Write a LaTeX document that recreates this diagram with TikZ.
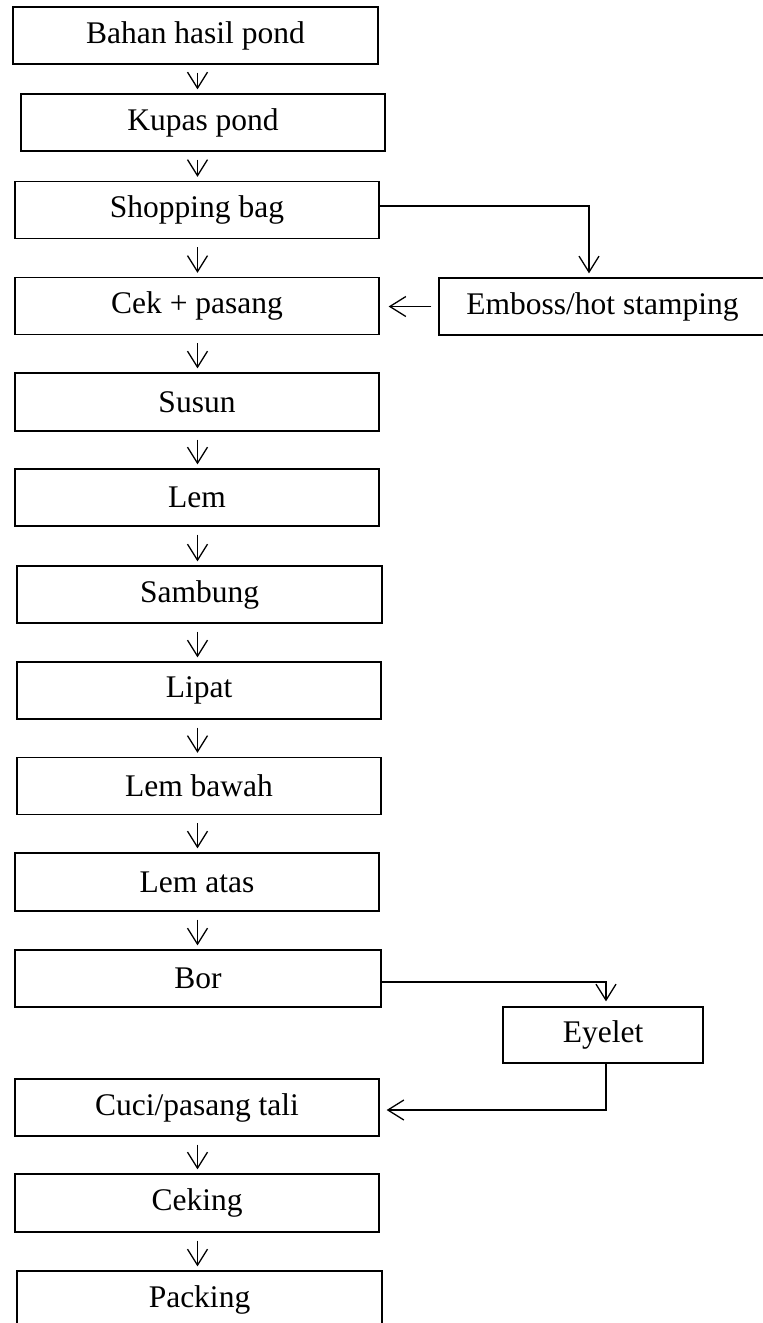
\documentclass[tikz,border=0pt]{standalone}
\usepackage{fontspec}
\setmainfont{Liberation Serif}
\usetikzlibrary{arrows.meta}
\begin{document}
\begin{tikzpicture}[x=1pt,y=-1pt,
  box/.style={draw,line width=1.3pt,inner sep=0pt,minimum height=57pt,
    font=\fontsize{31.5}{36}\selectfont},
  arr/.style={line width=1.3pt,-{Straight Barb[length=16pt,width=20pt,line width=1.3pt]}},
  conn/.style={line width=1.3pt}]
\useasboundingbox (0,0) rectangle (763,1323);
\clip (0,0) rectangle (763,1323);
\coordinate (X) at (197.5,0);
\node[box,minimum width=365pt] (b1) at (195.5,35.5) {Bahan hasil pond};
\node[box,minimum width=364pt] (b2) at (203,122.5) {Kupas pond};
\node[box,minimum width=364pt] (b3) at (197,210) {Shopping bag};
\node[box,minimum width=364pt] (b4) at (197,306) {Cek + pasang};
\node[box,minimum width=364pt,minimum height=58pt] (b5) at (197,402) {Susun};
\node[box,minimum width=364pt] (b6) at (197,497.5) {Lem};
\node[box,minimum width=365pt] (b7) at (199.5,594.5) {Sambung};
\node[box,minimum width=364pt] (b8) at (199,690.5) {Lipat};
\node[box,minimum width=364pt] (b9) at (199,786) {Lem bawah};
\node[box,minimum width=364pt,minimum height=58pt] (b10) at (197,882) {Lem atas};
\node[box,minimum width=366pt] (b11) at (198,978.5) {Bor};
\node[box,minimum width=364pt] (b12) at (197,1107.5) {Cuci/pasang tali};
\node[box,minimum width=364pt,minimum height=58pt] (b13) at (197,1203) {Ceking};
\node[box,minimum width=365pt] (b14) at (199.5,1299.5) {Packing};
\node[box,minimum width=327pt] (em) at (602.5,306.5) {Emboss/hot stamping};
\node[box,minimum width=200pt,minimum height=56pt] (ey) at (603,1035) {Eyelet};
\foreach \a/\b in {b1/b2,b2/b3,b3/b4,b4/b5,b5/b6,b6/b7,b7/b8,b8/b9,b9/b10,b10/b11,b12/b13,b13/b14}{
  \draw[arr] ([yshift=-8pt]\a.south -| X) -- ([yshift=4pt]\b.north -| X);
}
% Shopping bag -> Emboss
\coordinate (s1) at (589,206);
\draw[arr] (b3.east |- s1) -- (s1) -- ([yshift=4pt]em.north -| s1);
% Emboss -> Cek
\draw[arr] ([xshift=-7pt]em.west) -- ([xshift=9pt]b4.east |- em.west);
% Bor -> Eyelet
\coordinate (s2) at (606,982);
\draw[arr] (b11.east |- s2) -- (s2) -- ([yshift=5pt]ey.north -| s2);
% Eyelet -> Cuci
\coordinate (s3) at (606,1110);
\draw[arr] (ey.south -| s3) -- (s3) -- ([xshift=7pt]b12.east |- s3);
\end{tikzpicture}
\end{document}
